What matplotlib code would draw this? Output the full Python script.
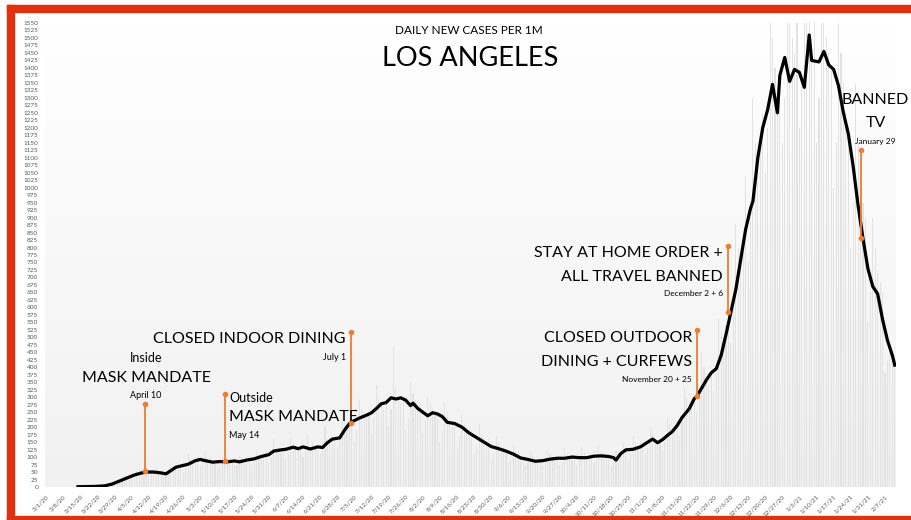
import numpy as np
import pandas as pd
import matplotlib
matplotlib.use("Agg")
import matplotlib.pyplot as plt
from matplotlib.patches import Rectangle

plt.rcParams['font.family'] = ['Lato', 'DejaVu Sans']

# daily new cases per 1M, one row per week starting 3/1/20
daily = [
    0, 0, 0, 0, 0, 0, 0,
    0, 0, 0, 1, 1, 1, 2,
    1, 2, 2, 2, 3, 2, 3,
    3, 4, 5, 6, 8, 10, 12,
    14, 20, 22, 30, 38, 40, 36,
    30, 42, 55, 60, 58, 52, 48,
    40, 44, 56, 62, 50, 45, 38,
    36, 60, 80, 70, 65, 58, 70,
    50, 62, 110, 95, 80, 90, 100,
    70, 80, 120, 95, 100, 85, 90,
    60, 70, 100, 95, 90, 85, 80,
    70, 75, 105, 100, 95, 85, 80,
    72, 80, 125, 110, 100, 110, 120,
    85, 100, 160, 130, 120, 115, 130,
    95, 110, 165, 150, 140, 130, 130,
    100, 120, 175, 140, 150, 130, 125,
    110, 150, 200, 160, 170, 150, 160,
    130, 170, 250, 230, 200, 220, 240,
    150, 190, 290, 260, 250, 230, 250,
    180, 230, 340, 300, 280, 260, 290,
    200, 260, 470, 330, 300, 280, 290,
    190, 230, 350, 310, 290, 270, 280,
    180, 220, 300, 280, 260, 240, 250,
    150, 190, 280, 250, 230, 210, 220,
    130, 170, 240, 210, 200, 180, 190,
    110, 140, 210, 180, 160, 150, 160,
    90, 110, 170, 150, 140, 130, 120,
    80, 90, 140, 120, 110, 100, 105,
    70, 85, 120, 105, 95, 90, 85,
    70, 85, 125, 110, 100, 95, 90,
    75, 85, 130, 115, 105, 100, 95,
    75, 90, 135, 115, 105, 100, 95,
    80, 90, 140, 120, 110, 105, 100,
    70, 80, 120, 110, 100, 150, 130,
    90, 110, 170, 150, 130, 125, 130,
    110, 130, 200, 180, 160, 150, 155,
    120, 150, 230, 210, 190, 185, 200,
    170, 220, 330, 300, 280, 270, 290,
    250, 310, 450, 400, 360, 340, 370,
    320, 380, 560, 520, 500, 540, 600,
    480, 600, 880, 800, 750, 780, 1035,
    750, 900, 1300, 1150, 1100, 1150, 1250,
    1050, 1200, 1650, 1500, 1400, 1300, 1350,
    1150, 1300, 1700, 1600, 1500, 1450, 1550,
    1200, 1350, 1750, 1650, 1600, 1500, 1650,
    1150, 1300, 1700, 1600, 1500, 1450, 1400,
    1000, 1150, 1600, 1450, 1350, 1250, 1200,
    800, 950, 1350, 1150, 1000, 950, 900,
    550, 650, 900, 800, 720, 680, 650,
    380, 420, 480, 450, 400,
]

# 7-day average (day index from 3/1/20, value)
avg_day = [13, 20, 24, 27, 30, 33, 36, 39, 41, 44, 47, 49, 51, 53, 56, 58, 61, 63, 65, 68,
           71, 74, 77, 79, 82, 85, 88, 91, 93, 96, 98, 101, 103, 105, 108, 111, 113, 115, 117, 120,
           122, 124, 126, 128, 131, 133, 135, 137, 139, 141, 143, 145, 147, 149, 150, 152, 154, 156, 158, 160,
           162, 164, 167, 170, 173, 176, 179, 182, 185, 188, 191, 194, 197, 200, 203, 206, 209, 212, 215, 218,
           221, 224, 227, 230, 232, 233, 235, 237, 240, 243, 246, 248, 250, 252, 254, 256, 258, 260, 263, 265,
           266, 268, 270, 272, 274, 276, 278, 280, 282, 284, 286, 288, 289, 291, 293, 295, 297, 299, 300, 302,
           304, 306, 308, 310, 312, 313, 316, 318, 320, 322, 324, 326, 328, 330, 332, 334, 336, 338, 340, 342,
           344, 346, 347]
avg_val = [1, 2, 4, 10, 20, 30, 40, 47, 50, 50, 47, 44, 55, 66, 72, 76, 88, 92, 88, 83,
           85, 84, 87, 84, 90, 94, 102, 108, 120, 124, 126, 133, 128, 134, 127, 134, 132, 148, 160, 164,
           190, 212, 222, 230, 240, 248, 262, 278, 282, 298, 294, 298, 290, 272, 280, 262, 250, 238, 248, 244,
           235, 216, 212, 200, 180, 165, 150, 135, 128, 120, 110, 97, 92, 86, 88, 93, 96, 96, 100, 98,
           98, 103, 104, 102, 98, 90, 112, 124, 126, 134, 150, 160, 148, 158, 172, 185, 205, 232, 262, 295,
           302, 330, 358, 382, 395, 440, 510, 585, 660, 760, 860, 930, 955, 1100, 1200, 1260, 1345, 1250, 1375, 1435,
           1355, 1395, 1385, 1335, 1510, 1425, 1420, 1455, 1410, 1395, 1340, 1250, 1180, 1070, 940, 830, 730, 670, 645, 560,
           490, 440, 407]

dates = pd.date_range('2020-03-01', periods=len(daily), freq='D')
tick_labels = [f"{d.month}/{d.day}/{d.strftime('%y')}" for d in dates[::7]]

# annotation markers: day index, top value, bottom value
ann_day = [40.5, 73, 124.5, 266, 279, 333]
ann_top = [277, 311, 518, 524, 805, 1126]
ann_bot = [53, 87, 214, 304, 585, 832]

orange = '#ED7D31'
W, H = 912, 520

fig = plt.figure(figsize=(W / 100, H / 100), dpi=100)
ax = fig.add_axes([45 / W, 33 / H, 851 / W, 464 / H])

x = np.arange(len(daily))
ax.set_xlim(-0.5, len(daily) - 0.5)
ax.set_ylim(0, 1550)

# soft gradient background in plot area
grad = np.linspace(1.0, 0.945, 256).reshape(-1, 1)
ax.imshow(np.dstack([grad, grad, grad]), aspect='auto', extent=[-0.5, len(daily) - 0.5, 0, 1550],
          zorder=0, origin='upper')

ax.bar(x, daily, width=0.45, color='#e2e2e2', zorder=1)
ax.plot(avg_day, avg_val, color='black', lw=2.3, zorder=3, solid_joinstyle='round')

for d, t, b in zip(ann_day, ann_top, ann_bot):
    ax.plot([d, d], [t, b], color=orange, lw=1.3, zorder=4)
    ax.plot([d, d], [t, b], 'o', color=orange, ms=3, zorder=4)

for s in ax.spines.values():
    s.set_visible(False)
ax.set_yticks(np.arange(0, 1551, 25))
ax.set_yticklabels([str(v) for v in range(0, 1551, 25)], fontsize=4.6, color='#595959')
ax.set_xticks(x[::7])
ax.set_xticklabels(tick_labels, rotation=45, ha='right', rotation_mode='anchor', fontsize=4.6, color='#595959')
ax.tick_params(length=0, pad=5)


def ftext(px, py, s, size, ha='center', **kw):
    fig.text(px / W, 1 - py / H, s, fontsize=size, ha=ha, va='center', color='black', **kw)


big = 11.5
ftext(469, 30, 'DAILY NEW CASES PER 1M', 8.5)
ftext(470, 58, 'LOS ANGELES', 19.5)

ftext(146, 358, 'Inside', 9)
ftext(147, 378, 'MASK MANDATE', big)
ftext(146, 396, 'April 10', 6.5)

ftext(229, 398, 'Outside', 9, ha='left')
ftext(229, 417, 'MASK MANDATE', big, ha='left')
ftext(229, 435, 'May 14', 6.5, ha='left')

ftext(346, 339, 'CLOSED INDOOR DINING', big, ha='right')
ftext(346, 357, 'July 1', 6.5, ha='right')

ftext(692, 338, 'CLOSED OUTDOOR', big, ha='right')
ftext(692, 362, 'DINING + CURFEWS', big, ha='right')
ftext(692, 379, 'November 20 + 25', 6, ha='right')

ftext(723, 253, 'STAY AT HOME ORDER +', big, ha='right')
ftext(723, 277, 'ALL TRAVEL BANNED', big, ha='right')
ftext(723, 294, 'December 2 + 6', 6, ha='right')

ftext(875, 100, 'BANNED', big)
ftext(876, 123, 'TV', big)
ftext(875, 142, 'January 29', 6)

# red frame
red = '#DF3010'
for rx, ry, rw, rh in [(7, 5, W - 7, 7), (7, 5, 7, H - 5), (7, 516, W - 7, 4)]:
    fig.patches.append(Rectangle((rx / W, 1 - (ry + rh) / H), rw / W, rh / H,
                                 transform=fig.transFigure, color=red, zorder=10))

fig.savefig('out.png', dpi=100, facecolor='white')
